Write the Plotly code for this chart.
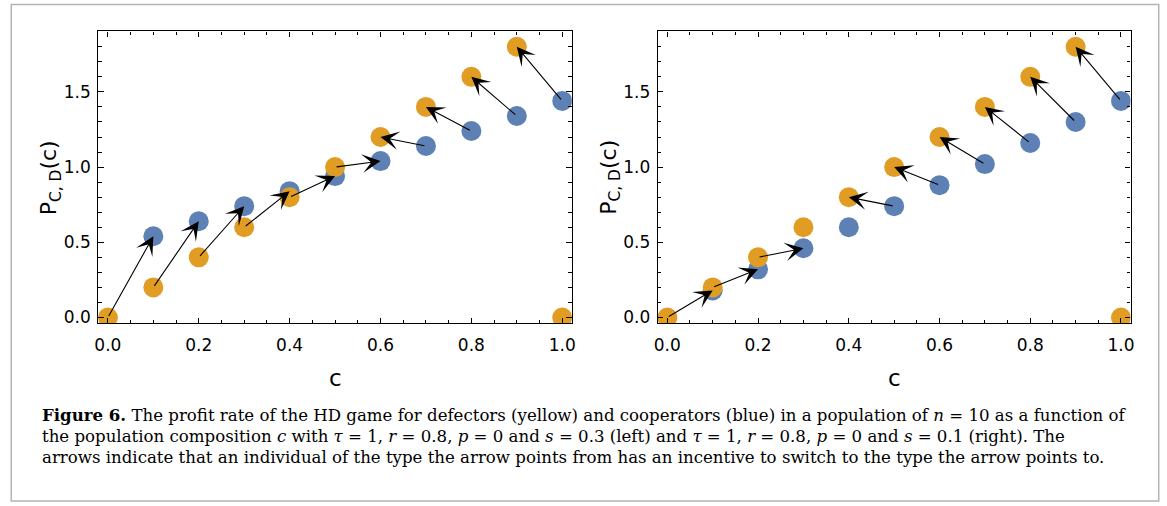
import plotly.graph_objects as go

W, H = 1167, 506

# ---- data ----
c_values = [0.0, 0.1, 0.2, 0.3, 0.4, 0.5, 0.6, 0.7, 0.8, 0.9, 1.0]
# defectors (yellow), c = 0 .. 0.9 and c = 1.0
defector_left = [0.0, 0.2, 0.4, 0.6, 0.8, 1.0, 1.2, 1.4, 1.6, 1.8, 0.0]
# cooperators (blue), c = 0.1 .. 1.0
coop_c = [0.1, 0.2, 0.3, 0.4, 0.5, 0.6, 0.7, 0.8, 0.9, 1.0]
coop_left = [0.54, 0.64, 0.74, 0.84, 0.94, 1.04, 1.14, 1.24, 1.34, 1.44]
defector_right = [0.0, 0.2, 0.4, 0.6, 0.8, 1.0, 1.2, 1.4, 1.6, 1.8, 0.0]
coop_right = [0.18, 0.32, 0.46, 0.60, 0.74, 0.88, 1.02, 1.16, 1.30, 1.44]

x_tick_vals = [0.0, 0.2, 0.4, 0.6, 0.8, 1.0]
x_tick_text = ["0.0", "0.2", "0.4", "0.6", "0.8", "1.0"]
y_tick_vals = [0.0, 0.5, 1.0, 1.5]
y_tick_text = ["0.0", "0.5", "1.0", "1.5"]

caption_lines = [
    "<b>Figure 6.</b> The profit rate of the HD game for defectors (yellow) and cooperators (blue) "
    "in a population of <i>n</i> = 10 as a function of",
    "the population composition <i>c</i> with <i>τ</i> = 1, <i>r</i> = 0.8, <i>p</i> = 0 and "
    "<i>s</i> = 0.3 (left) and <i>τ</i> = 1, <i>r</i> = 0.8, <i>p</i> = 0 and <i>s</i> = 0.1 (right). The",
    "arrows indicate that an individual of the type the arrow points from has an incentive "
    "to switch to the type the arrow points to.",
]

BLUE = "#5E81B5"
YELLOW = "#E19C24"

fig = go.Figure()

def px_x(p):
    return p / W

def px_y(p):
    return 1 - p / H

panels = [
    ("x", "y", defector_left, coop_left, (95, 571.7)),
    ("x2", "y2", defector_right, coop_right, (658.3, 1134.3)),
]

annotations = []
for xa, ya, dvals, cvals, (l, r) in panels:
    fig.add_trace(go.Scatter(x=coop_c, y=cvals, mode="markers", xaxis=xa, yaxis=ya,
                             marker=dict(color=BLUE, size=20, line=dict(width=0)),
                             showlegend=False, hoverinfo="skip"))
    fig.add_trace(go.Scatter(x=c_values, y=dvals, mode="markers", xaxis=xa, yaxis=ya,
                             marker=dict(color=YELLOW, size=20, line=dict(width=0)),
                             showlegend=False, hoverinfo="skip"))
    # arrows: defector at c_i vs cooperator at c_{i+1}
    for i in range(len(coop_c)):
        dx, dy = c_values[i], dvals[i]
        cx, cy = coop_c[i], cvals[i]
        if abs(cy - dy) < 1e-9:
            continue
        if cy > dy:
            (sx, sy), (tx, ty) = (dx, dy), (cx, cy)
        else:
            (sx, sy), (tx, ty) = (cx, cy), (dx, dy)
        annotations.append(dict(x=tx, y=ty, ax=sx, ay=sy, xref=xa, yref=ya,
                                axref=xa, ayref=ya, text="", showarrow=True,
                                arrowhead=3, arrowsize=2.8, arrowwidth=1.1,
                                arrowcolor="black", standoff=0, startstandoff=0))
    cx_mid = (l + r) / 2
    annotations.append(dict(x=px_x(cx_mid), y=px_y(381), xref="paper", yref="paper",
                            text="c", showarrow=False, xanchor="center", yanchor="middle",
                            font=dict(family="DejaVu Sans", size=23, color="black")))
    annotations.append(dict(x=px_x(l - 48), y=px_y(179), xref="paper", yref="paper",
                            text="P<sub>C, D</sub>(c)", showarrow=False, textangle=-90,
                            xanchor="center", yanchor="middle",
                            font=dict(family="DejaVu Sans", size=22, color="black")))

axis_common = dict(showline=True, linecolor="black", linewidth=1.3, mirror="ticks",
                   ticks="inside", tickcolor="black", tickwidth=1, ticklen=5.5,
                   showgrid=False, zeroline=False,
                   tickfont=dict(family="DejaVu Sans", size=17, color="black"))

xr = [-0.021, 1.021]
yr = [-0.0396, 1.902]
ydom = [px_y(326), px_y(31.7)]

for idx, (xa, ya, _, _, (l, r)) in enumerate(panels):
    xkey = "xaxis" if idx == 0 else "xaxis2"
    ykey = "yaxis" if idx == 0 else "yaxis2"
    fig.update_layout(**{
        xkey: dict(axis_common, domain=[px_x(l), px_x(r)], range=xr,
                   tickvals=x_tick_vals, ticktext=x_tick_text, ticklabelstandoff=6,
                   minor=dict(ticks="inside", dtick=0.05, tick0=0, ticklen=3.5,
                              tickcolor="black", tickwidth=1, showgrid=False),
                   anchor=ya),
        ykey: dict(axis_common, domain=ydom, range=yr,
                   tickvals=y_tick_vals, ticktext=y_tick_text, ticklabelstandoff=3,
                   minor=dict(ticks="inside", dtick=0.1, tick0=0, ticklen=3.5,
                              tickcolor="black", tickwidth=1, showgrid=False),
                   anchor=xa),
    })

line_centers = [418, 439.5, 461]
for txt, yc in zip(caption_lines, line_centers):
    annotations.append(dict(x=px_x(36), y=px_y(yc), xref="paper", yref="paper", text=txt,
                            showarrow=False, xanchor="left", yanchor="middle", align="left",
                            font=dict(family="DejaVu Serif", size=16.6, color="black")))

fig.update_layout(
    width=W, height=H, margin=dict(l=0, r=0, t=0, b=0),
    paper_bgcolor="white", plot_bgcolor="white",
    annotations=annotations,
    shapes=[dict(type="rect", xref="paper", yref="paper",
                 x0=px_x(7.3), x1=px_x(1162.7), y0=px_y(505), y1=px_y(4.5),
                 line=dict(color="#B4B4B4", width=1.5), layer="below")],
)

fig.write_html("out.html")
